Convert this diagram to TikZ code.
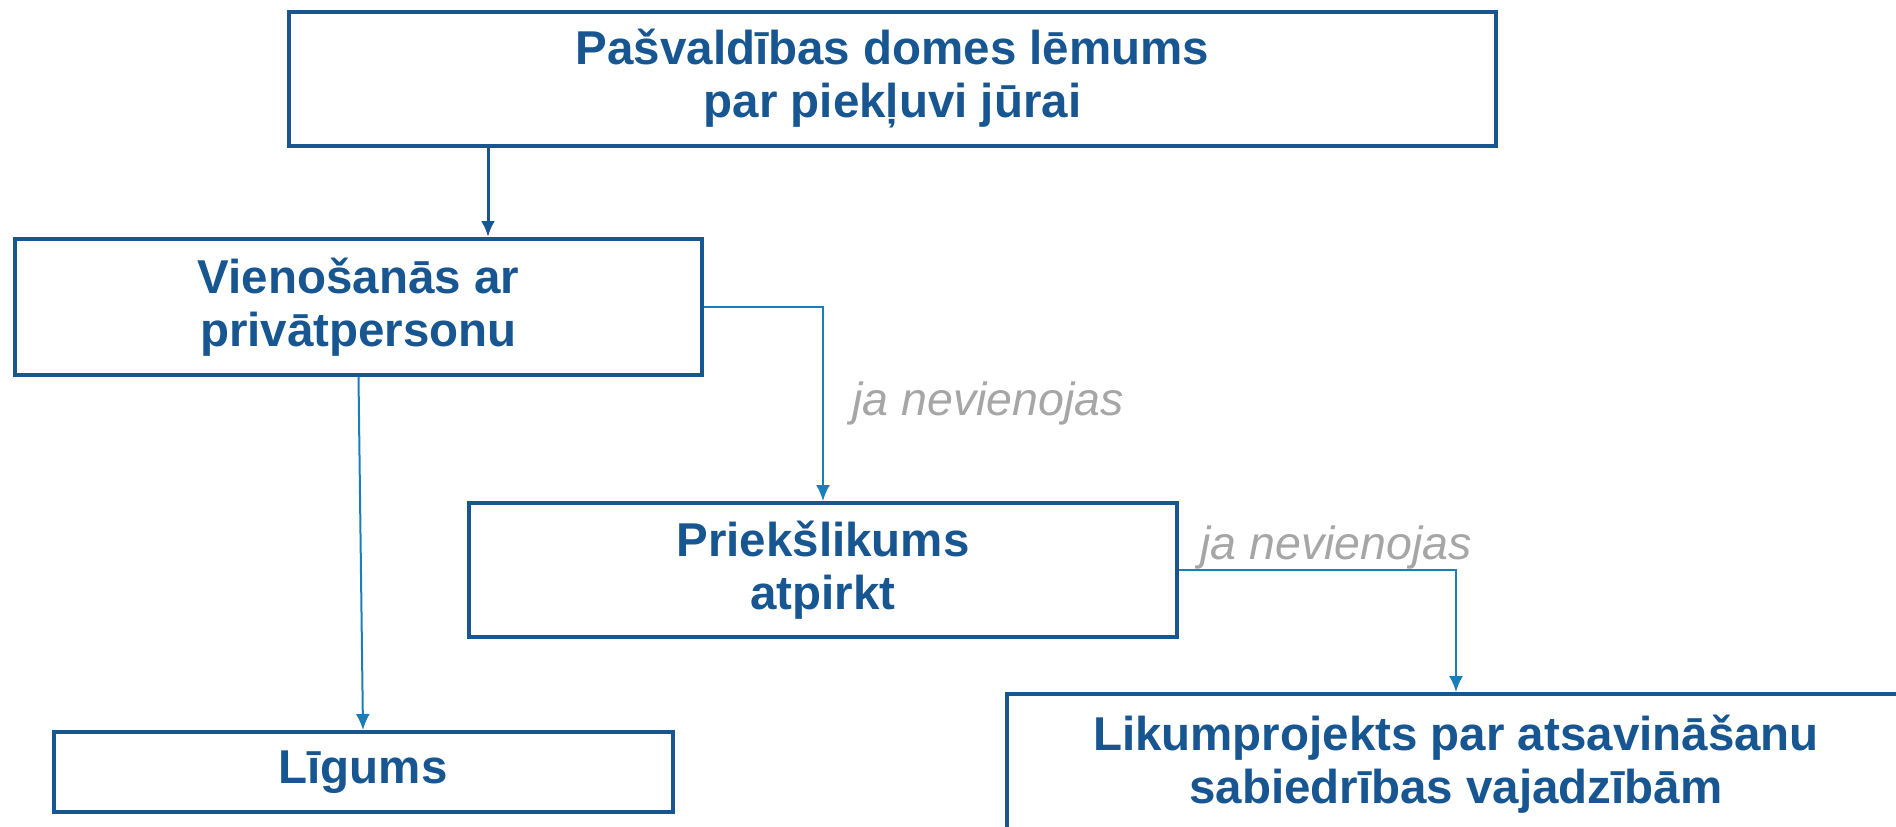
\documentclass[tikz,border=0pt]{standalone}
\usepackage{fontspec}
\setmainfont{Liberation Sans}
\usepackage{tikz}
\usetikzlibrary{arrows.meta}

\definecolor{boxblue}{RGB}{23,86,145}
\definecolor{linkblue}{RGB}{26,127,184}
\definecolor{notegray}{RGB}{166,166,166}

\begin{document}
\begin{tikzpicture}[x=1pt,y=-1pt,
    box/.style={draw=boxblue, line width=4pt, text=boxblue, align=center, inner sep=0pt,
        font=\fontsize{47.5}{53}\selectfont\bfseries},
    link/.style={draw=linkblue, line width=2pt, -{Latex[length=16pt,width=14pt]}},
    note/.style={text=notegray, anchor=base, inner sep=0pt,
        font=\fontsize{46.5}{53}\selectfont\itshape}]

\useasboundingbox (0,0) rectangle (1896,827);

\node[box, minimum width=1207pt, minimum height=134pt] (top)    at (892.5,79) {Pašvaldības domes lēmums\\par piekļuvi jūrai};
\node[box, minimum width=687pt,  minimum height=136pt] (vieno)  at (358.5,307) {Vienošanās ar\\privātpersonu};
\node[box, minimum width=708pt,  minimum height=134pt] (priek)  at (823,570) {Priekšlikums\\atpirkt};
\node[box, minimum width=619pt,  minimum height=80pt]  (ligums) at (363,772) {Līgums};
\node[box, minimum width=898pt,  minimum height=140pt] (likum)  at (1456,764) {Likumprojekts par atsavināšanu\\sabiedrības vajadzībām};

\coordinate (t1) at (488,146);

\draw[link, draw=boxblue, line width=3pt] (t1) -- (t1 |- vieno.north);
\draw[link] (vieno.south) -- (ligums.north);
\draw[link] (vieno.east) -| (priek.north);
\draw[link] (priek.east) -| (likum.north);

\node[note] (ja1) at (988,415) {ja nevienojas};
\node[note] (ja2) at (1336,559) {ja nevienojas};

\end{tikzpicture}
\end{document}
